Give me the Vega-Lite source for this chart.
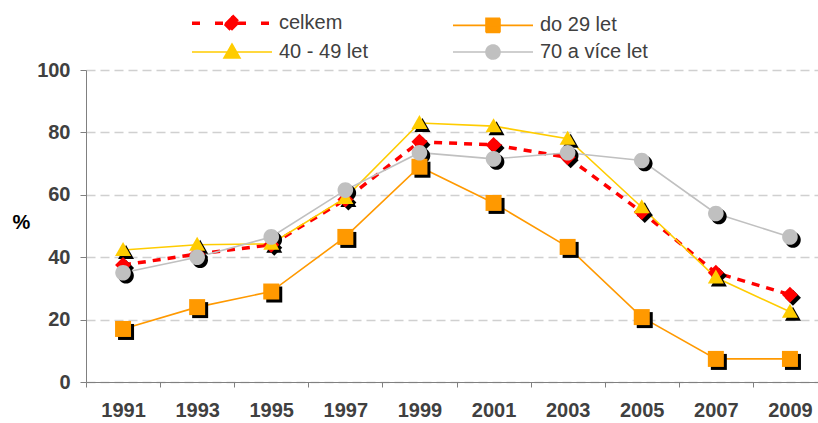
{
  "$schema": "https://vega.github.io/schema/vega-lite/v6.json",
  "width": 732,
  "height": 312,
  "autosize": {"type": "none"},
  "padding": {"left": 86, "top": 70, "right": 0, "bottom": 41},
  "background": "white",
  "config": {"view": {"stroke": null}, "font": "Liberation Sans"},
  "data": {
    "values": [
      {"series": "celkem", "year": "1991", "value": 37.5},
      {"series": "celkem", "year": "1993", "value": 41},
      {"series": "celkem", "year": "1995", "value": 44},
      {"series": "celkem", "year": "1997", "value": 58.5},
      {"series": "celkem", "year": "1999", "value": 77},
      {"series": "celkem", "year": "2001", "value": 76},
      {"series": "celkem", "year": "2003", "value": 72},
      {"series": "celkem", "year": "2005", "value": 54.5},
      {"series": "celkem", "year": "2007", "value": 35},
      {"series": "celkem", "year": "2009", "value": 28},
      {"series": "do 29 let", "year": "1991", "value": 17},
      {"series": "do 29 let", "year": "1993", "value": 24},
      {"series": "do 29 let", "year": "1995", "value": 29},
      {"series": "do 29 let", "year": "1997", "value": 46.5},
      {"series": "do 29 let", "year": "1999", "value": 69},
      {"series": "do 29 let", "year": "2001", "value": 57.4},
      {"series": "do 29 let", "year": "2003", "value": 43.3},
      {"series": "do 29 let", "year": "2005", "value": 20.8},
      {"series": "do 29 let", "year": "2007", "value": 7.4},
      {"series": "do 29 let", "year": "2009", "value": 7.4},
      {"series": "40 - 49 let", "year": "1991", "value": 42.3},
      {"series": "40 - 49 let", "year": "1993", "value": 44},
      {"series": "40 - 49 let", "year": "1995", "value": 44.3},
      {"series": "40 - 49 let", "year": "1997", "value": 59},
      {"series": "40 - 49 let", "year": "1999", "value": 83},
      {"series": "40 - 49 let", "year": "2001", "value": 82},
      {"series": "40 - 49 let", "year": "2003", "value": 78},
      {"series": "40 - 49 let", "year": "2005", "value": 56},
      {"series": "40 - 49 let", "year": "2007", "value": 33.5},
      {"series": "40 - 49 let", "year": "2009", "value": 22.5},
      {"series": "70 a více let", "year": "1991", "value": 35},
      {"series": "70 a více let", "year": "1993", "value": 40},
      {"series": "70 a více let", "year": "1995", "value": 46.5},
      {"series": "70 a více let", "year": "1997", "value": 61.5},
      {"series": "70 a více let", "year": "1999", "value": 73.5},
      {"series": "70 a více let", "year": "2001", "value": 71.5},
      {"series": "70 a více let", "year": "2003", "value": 73.5},
      {"series": "70 a více let", "year": "2005", "value": 71},
      {"series": "70 a více let", "year": "2007", "value": 54},
      {"series": "70 a více let", "year": "2009", "value": 46.5}
    ]
  },
  "encoding": {
    "x": {
      "field": "year",
      "type": "ordinal",
      "scale": {"type": "band", "range": [0, 741], "paddingInner": 0, "paddingOuter": 0},
      "axis": {
        "title": null,
        "labelAngle": 0,
        "tickBand": "extent",
        "domainColor": "#808080",
        "tickColor": "#808080",
        "tickSize": 5,
        "labelFontSize": 20,
        "labelFontWeight": "bold",
        "labelColor": "#404040",
        "labelPadding": 13,
        "grid": false
      }
    },
    "y": {
      "field": "value",
      "type": "quantitative",
      "scale": {"domain": [0, 100]},
      "axis": {
        "values": [0, 20, 40, 60, 80, 100],
        "grid": true,
        "gridDash": [9, 5],
        "gridColor": "#D0D0D0",
        "gridWidth": 1.3,
        "domainColor": "#808080",
        "tickColor": "#808080",
        "tickSize": 6,
        "labelPadding": 10,
        "labelFontSize": 20,
        "labelFontWeight": "bold",
        "labelColor": "#404040",
        "title": "%",
        "titleAngle": 0,
        "titleFontSize": 20,
        "titleFontWeight": "bold",
        "titleColor": "#000000",
        "titleX": -65,
        "titleY": 152,
        "titleAlign": "center",
        "titleBaseline": "middle"
      }
    },
    "color": {
      "field": "series",
      "type": "nominal",
      "scale": {
        "domain": ["celkem", "do 29 let", "40 - 49 let", "70 a více let"],
        "range": ["#FF0000", "#FF9900", "#FFCC00", "#C0C0C0"]
      },
      "legend": {
        "orient": "none",
        "direction": "horizontal",
        "legendX": 106,
        "legendY": -57,
        "columns": 2,
        "columnPadding": 81,
        "rowPadding": 2,
        "title": null,
        "labelFontSize": 20,
        "labelColor": "#404040",
        "symbolSize": 4,
        "symbolOffset": 30,
        "labelOffset": 37,
        "symbolStrokeWidth": 2,
        "encode": {
          "symbols": {
            "update": {
              "shape": {"signal": "datum.value == 'celkem' ? 'M-40,0H40M0,-7.5L7.5,0L0,7.5L-7.5,0Z' : datum.value == 'do 29 let' ? 'M-40,0H40M-7,-7H7V7H-7Z' : datum.value == '40 - 49 let' ? 'M-40,0H40M0,-8L8,6L-8,6Z' : 'M-40,0H40M-7,0A7,7,0,1,1,7,0A7,7,0,1,1,-7,0Z'"},
              "fill": {"signal": "scale('color', datum.value)"},
              "stroke": {"signal": "scale('color', datum.value)"},
              "strokeDash": {"signal": "datum.value == 'celkem' ? [8, 15] : [1, 0]"},
              "strokeWidth": {"signal": "datum.value == 'celkem' ? 3.5 : 1.6"},
              "opacity": {"value": 1}
            }
          }
        }
      }
    }
  },
  "resolve": {"scale": {"shape": "independent"}},
  "layer": [
    {
      "transform": [{"filter": "datum.series == 'celkem'"}],
      "mark": {"type": "line", "strokeWidth": 3.5, "strokeDash": [8, 7]}
    },
    {
      "transform": [{"filter": "datum.series != 'celkem'"}],
      "mark": {"type": "line", "strokeWidth": 1.6}
    },
    {
      "transform": [{"calculate": "datum.series", "as": "marker"}],
      "mark": {"type": "point", "filled": true, "opacity": 1, "size": 4},
      "encoding": {
        "color": {"value": "#000000"},
        "shape": {
          "field": "marker",
          "type": "nominal",
          "scale": {
            "domain": ["celkem", "do 29 let", "40 - 49 let", "70 a více let"],
            "range": [
              "M3,-5L11,3L3,11L-5,3Z",
              "M-5,-5H11V11H-5Z",
              "M3,-5L11,9L-5,9Z",
              "M-4.8,3A7.8,7.8,0,1,1,10.8,3A7.8,7.8,0,1,1,-4.8,3Z"
            ]
          },
          "legend": null
        }
      }
    },
    {
      "transform": [{"calculate": "datum.series", "as": "marker"}],
      "mark": {"type": "point", "filled": true, "opacity": 1, "size": 4},
      "encoding": {
        "shape": {
          "field": "marker",
          "type": "nominal",
          "scale": {
            "domain": ["celkem", "do 29 let", "40 - 49 let", "70 a více let"],
            "range": [
              "M0,-8L8,0L0,8L-8,0Z",
              "M-8,-8H8V8H-8Z",
              "M0,-8L8,6L-8,6Z",
              "M-7.8,0A7.8,7.8,0,1,1,7.8,0A7.8,7.8,0,1,1,-7.8,0Z"
            ]
          },
          "legend": null
        }
      }
    }
  ]
}
